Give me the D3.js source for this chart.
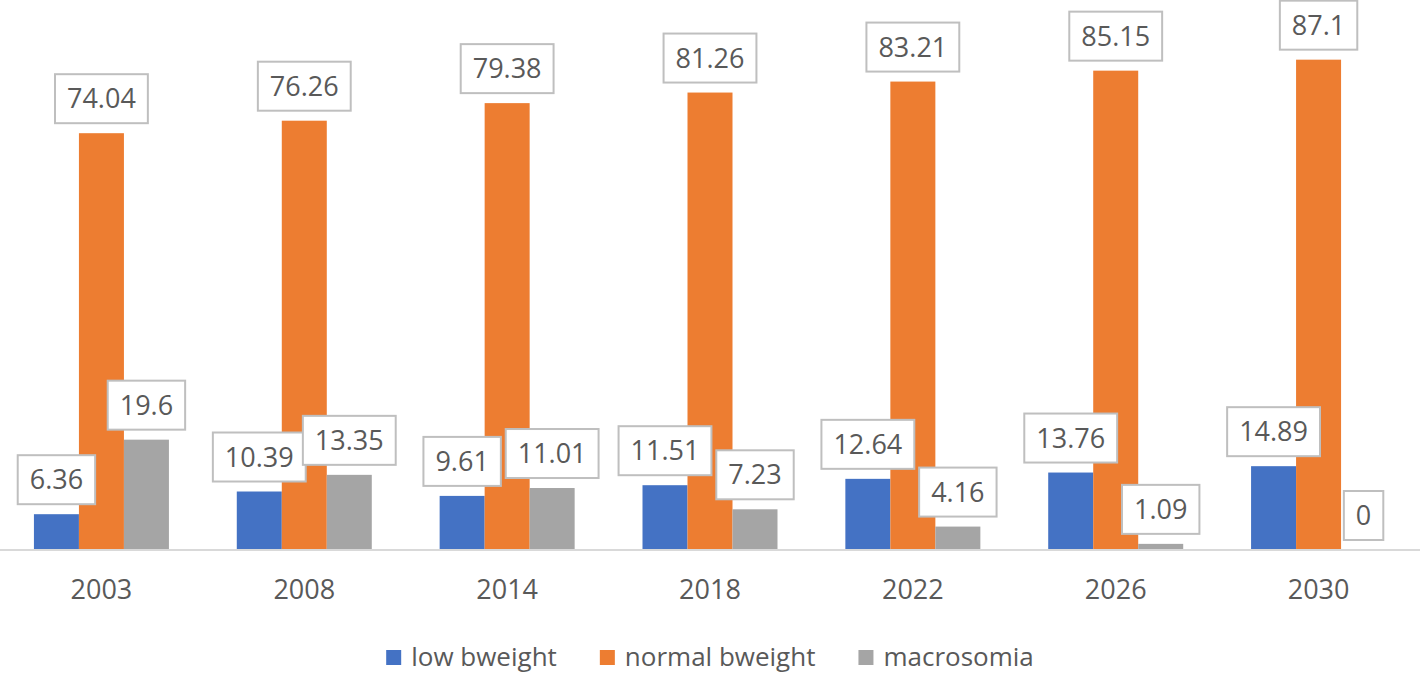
<!DOCTYPE html>
<html>
<head>
<meta charset="utf-8">
<style>
html, body { margin: 0; padding: 0; background: #fff; }
text { font-family: "Open Sans", sans-serif; fill: #595959; }
</style>
<script src="https://cdn.jsdelivr.net/npm/d3@7"></script>
</head>
<body>
<script>
var years = ["2003", "2008", "2014", "2018", "2022", "2026", "2030"];
var seriesNames = ["low bweight", "normal bweight", "macrosomia"];
var lowBweight = [6.36, 10.39, 9.61, 11.51, 12.64, 13.76, 14.89];
var normalBweight = [74.04, 76.26, 79.38, 81.26, 83.21, 85.15, 87.1];
var macrosomia = [19.6, 13.35, 11.01, 7.23, 4.16, 1.09, 0];
var colors = ["#4472c4", "#ed7d31", "#a5a5a5"];

var w = 1420, h = 675;
var baseY = 550;

var svg = d3.select("body").append("svg")
    .attr("width", w)
    .attr("height", h);

var x = d3.scaleBand()
    .domain(years)
    .range([0, w])
    .paddingInner(0.3345)
    .paddingOuter(0.3345 / 2);

var xs = d3.scaleBand()
    .domain(d3.range(3))
    .range([0, x.bandwidth()]);

var y = d3.scaleLinear()
    .domain([0, 97.7])
    .range([baseY, 0]);

var allSeries = [lowBweight, normalBweight, macrosomia];
var bars = [];
allSeries.forEach(function(vals, s) {
  vals.forEach(function(v, i) {
    bars.push({ year: years[i], s: s, value: v });
  });
});

svg.selectAll("rect.bar")
  .data(bars)
  .enter().append("rect")
    .attr("class", "bar")
    .attr("x", function(d) { return x(d.year) + xs(d.s); })
    .attr("y", function(d) { return y(d.value); })
    .attr("width", xs.bandwidth())
    .attr("height", function(d) { return baseY - y(d.value); })
    .style("fill", function(d) { return colors[d.s]; });

// axis line
svg.append("line")
    .attr("x1", 0).attr("x2", w)
    .attr("y1", baseY).attr("y2", baseY)
    .style("stroke", "#d9d9d9")
    .style("stroke-width", 2);

// category labels
svg.selectAll("text.cat")
  .data(years)
  .enter().append("text")
    .attr("class", "cat")
    .attr("x", function(d) { return x(d) + x.bandwidth() / 2; })
    .attr("y", 599)
    .attr("text-anchor", "middle")
    .style("font-size", "27px")
    .text(function(d) { return d; });

// data labels with boxes
var boxH = 49;
var labels = svg.selectAll("g.lbl")
  .data(bars)
  .enter().append("g")
    .attr("class", "lbl");

labels.each(function(d) {
  var g = d3.select(this);
  var cx = x(d.year) + xs(d.s) + xs.bandwidth() / 2;
  var bottom = y(d.value) - 10;
  var rect = g.append("rect");
  var t = g.append("text")
      .attr("x", cx)
      .attr("y", bottom - boxH / 2 + 9.5)
      .attr("text-anchor", "middle")
      .style("font-size", "27px")
      .text(String(d.value));
  var tw = t.node().getComputedTextLength();
  var bw = tw + 24;
  rect.attr("x", cx - bw / 2)
      .attr("y", bottom - boxH)
      .attr("width", bw)
      .attr("height", boxH)
      .style("fill", "#fff")
      .style("stroke", "#bfbfbf")
      .style("stroke-width", 2);
});

// legend
var legend = svg.append("g");
var lx = 0;
seriesNames.forEach(function(name, i) {
  var item = legend.append("g").attr("transform", "translate(" + lx + ",0)");
  item.append("rect")
      .attr("x", 0).attr("y", 650)
      .attr("width", 15).attr("height", 15)
      .style("fill", colors[i]);
  var t = item.append("text")
      .attr("x", 25).attr("y", 666)
      .style("font-size", "26px")
      .text(name);
  lx += 25 + t.node().getComputedTextLength() + 43;
});
var legW = lx - 43;
legend.attr("transform", "translate(" + ((w - legW) / 2) + ",0)");
</script>
</body>
</html>
